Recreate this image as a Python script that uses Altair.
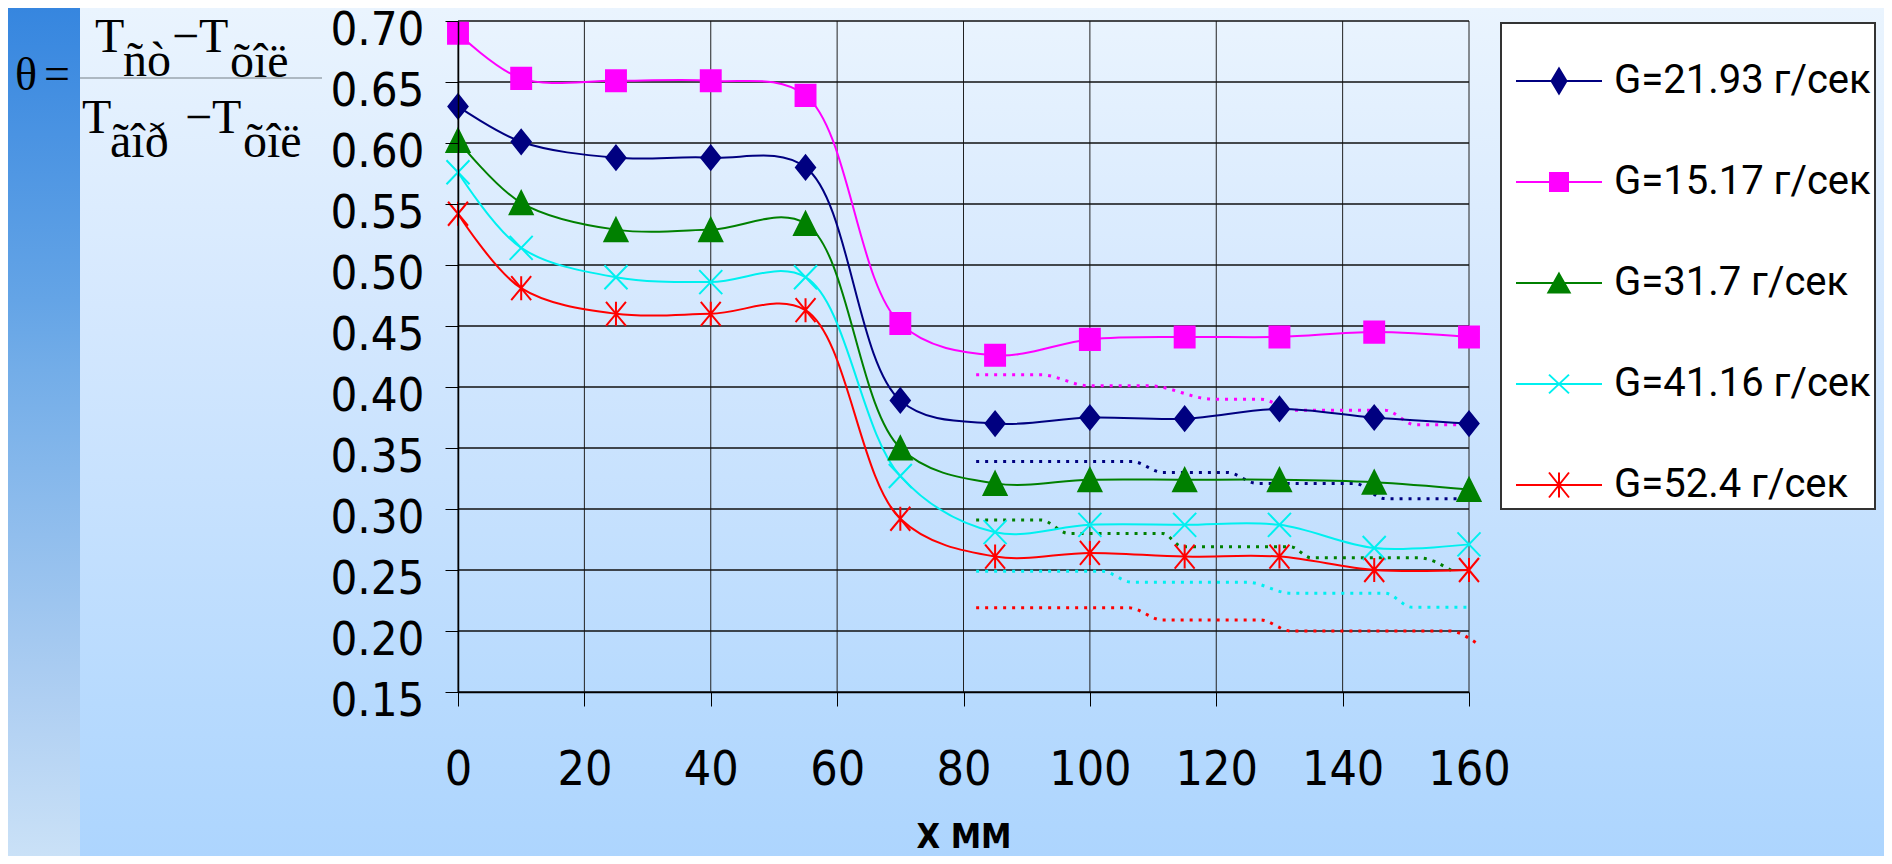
import altair as alt
import pandas as pd

# ---------------- data ----------------
SERIES = ["G=21.93 г/сек", "G=15.17 г/сек", "G=31.7 г/сек", "G=41.16 г/сек", "G=52.4 г/сек"]
COLORS = ["#000080", "#FF00FF", "#008000", "#00F0F0", "#FF0000"]

X_MM = [0, 10, 25, 40, 55, 70, 85, 100, 115, 130, 145, 160]
THETA_2193 = [0.630, 0.601, 0.588, 0.588, 0.580, 0.389, 0.370, 0.375, 0.374, 0.382, 0.375, 0.370]
THETA_1517 = [0.690, 0.653, 0.651, 0.651, 0.639, 0.452, 0.426, 0.439, 0.441, 0.441, 0.445, 0.441]
THETA_317 = [0.602, 0.551, 0.529, 0.529, 0.534, 0.350, 0.321, 0.324, 0.324, 0.324, 0.322, 0.316]
THETA_4116 = [0.576, 0.514, 0.490, 0.486, 0.490, 0.327, 0.281, 0.287, 0.287, 0.287, 0.268, 0.271]
THETA_524 = [0.542, 0.481, 0.460, 0.460, 0.463, 0.292, 0.261, 0.264, 0.261, 0.261, 0.250, 0.250]

# dotted (step-like) companion curves
DOT_X_2193 = [82, 106.7, 111.5, 121.7, 126.5, 141.9, 146.7, 160.6]
DOT_Y_2193 = [0.339, 0.339, 0.330, 0.330, 0.321, 0.321, 0.3085, 0.3085]
DOT_X_1517 = [82, 92.3, 99.8, 109.4, 119.5, 127, 132.3, 146.7, 151.5, 160.6]
DOT_Y_1517 = [0.410, 0.410, 0.401, 0.401, 0.390, 0.390, 0.381, 0.381, 0.369, 0.369]
DOT_X_317 = [82, 92.3, 96.6, 111.5, 114.7, 131.8, 135, 152, 157.4]
DOT_Y_317 = [0.291, 0.291, 0.280, 0.280, 0.269, 0.269, 0.260, 0.260, 0.249]
DOT_X_4116 = [82, 101.9, 106.7, 124.9, 131.8, 146.7, 151, 160.1]
DOT_Y_4116 = [0.249, 0.249, 0.240, 0.240, 0.231, 0.231, 0.2195, 0.2195]
DOT_X_524 = [82, 106.2, 111.5, 127, 131.8, 156.9, 161.2]
DOT_Y_524 = [0.219, 0.219, 0.209, 0.209, 0.200, 0.200, 0.190]

X_TICKS = [0, 20, 40, 60, 80, 100, 120, 140, 160]
Y_TICKS = [0.15, 0.2, 0.25, 0.3, 0.35, 0.4, 0.45, 0.5, 0.55, 0.6, 0.65, 0.7]

# ---------------- tables ----------------
main_vals = [THETA_2193, THETA_1517, THETA_317, THETA_4116, THETA_524]
dot_x = [DOT_X_2193, DOT_X_1517, DOT_X_317, DOT_X_4116, DOT_X_524]
dot_y = [DOT_Y_2193, DOT_Y_1517, DOT_Y_317, DOT_Y_4116, DOT_Y_524]

main_df = pd.DataFrame(
    [{"series": s, "x": x, "y": y} for s, ys in zip(SERIES, main_vals) for x, y in zip(X_MM, ys)]
)
dot_df = pd.DataFrame(
    [{"series": s, "x": x, "y": y} for s, xs, ys in zip(SERIES, dot_x, dot_y) for x, y in zip(xs, ys)]
)
leg_df = pd.DataFrame({"series": SERIES, "x": [X_MM[0]] * 5, "y": [v[0] for v in main_vals]})
xgrid_df = pd.DataFrame({"x": X_TICKS})
ygrid_df = pd.DataFrame({"y": Y_TICKS})
one = pd.DataFrame({"k": [0]})

# ---------------- styles ----------------
NARROW = "Liberation Sans Narrow, Arial Narrow, DejaVu Sans Condensed, sans-serif"
SERIF = "Liberation Serif, Times New Roman, serif"

MARKER_PATHS = [
    "M0,-1L0.8,0L0,1L-0.8,0Z",
    "M-0.83,-0.88L0.83,-0.88L0.83,0.88L-0.83,0.88Z",
    "M0,-0.96L0.96,0.96L-0.96,0.96Z",
    "M-0.96,-1L0.96,1M-0.96,1L0.96,-1",
    "M-0.83,-1L0.83,1M-0.83,1L0.83,-1M0,-1L0,1",
]
LEGEND_PATHS = [
    "M-3.44,0L3.44,0M0,-1L0.6,0L0,1L-0.6,0Z",
    "M-3.44,0L3.44,0M-0.72,-0.72L0.72,-0.72L0.72,0.72L-0.72,0.72Z",
    "M-3.44,0L3.44,0M0,-0.75L0.85,0.75L-0.85,0.75Z",
    "M-3.44,0L3.44,0M-0.8,-0.75L0.8,0.75M-0.8,0.75L0.8,-0.75",
    "M-3.44,0L3.44,0M-0.8,-1L0.8,1M-0.8,1L0.8,-1M0,-1L0,1",
]

W, H = 1011, 671
PAD = {"left": 450, "top": 13, "right": 415, "bottom": 164}

X_SCALE = alt.Scale(domain=[0, 160], nice=False, zero=False)
Y_SCALE = alt.Scale(domain=[0.15, 0.70], nice=False, zero=False)

X_AXIS = alt.Axis(
    values=X_TICKS, format="d", grid=False, zindex=1,
    domain=True, domainColor="black", domainWidth=1.5,
    ticks=True, tickColor="black", tickSize=14, tickWidth=1,
    labelFont=NARROW, labelFontSize=48, labelColor="black", labelPadding=40,
    labelFlush=False, labelOverlap=False, labelAngle=0,
    title="X MM", titleFont=NARROW, titleFontSize=34, titleFontWeight="bold",
    titleColor="black", titleBaseline="top", titleY=128,
)
Y_AXIS = alt.Axis(
    values=Y_TICKS, format=".2f", grid=False, zindex=1,
    domain=True, domainColor="black", domainWidth=1.5,
    ticks=True, tickColor="black", tickSize=13, tickWidth=1,
    labelFont=NARROW, labelFontSize=47, labelColor="black", labelPadding=21,
    labelOffset=9, labelFlush=False, labelOverlap=False, title=None,
)
X_ENC = alt.X("x:Q", scale=X_SCALE, axis=X_AXIS)
Y_ENC = alt.Y("y:Q", scale=Y_SCALE, axis=Y_AXIS)

def color_scale(rng):
    return alt.Scale(domain=SERIES, range=rng)

# ---------------- background decoration ----------------
bg_grad = alt.LinearGradient(
    gradient="linear", x1=0, x2=0, y1=0, y2=1,
    stops=[
        alt.GradientStop(color="#EAF4FE", offset=0),
        alt.GradientStop(color="#D5E8FE", offset=0.35),
        alt.GradientStop(color="#B7DAFE", offset=0.82),
        alt.GradientStop(color="#ADD5FE", offset=1),
    ],
)
strip_grad = alt.LinearGradient(
    gradient="linear", x1=0, x2=0, y1=0, y2=1,
    stops=[
        alt.GradientStop(color="#3686DF", offset=0),
        alt.GradientStop(color="#64A4E6", offset=0.344),
        alt.GradientStop(color="#73ADE8", offset=0.427),
        alt.GradientStop(color="#AFCFF2", offset=0.816),
        alt.GradientStop(color="#CAE1F7", offset=1),
    ],
)
bg = alt.Chart(one).mark_rect(fill=bg_grad).encode(
    x=alt.value(-PAD["left"]), x2=alt.value(W + PAD["right"]),
    y=alt.value(-PAD["top"]), y2=alt.value(H + PAD["bottom"]),
)
strip = alt.Chart(one).mark_rect(fill=strip_grad).encode(
    x=alt.value(-PAD["left"]), x2=alt.value(-378),
    y=alt.value(-PAD["top"]), y2=alt.value(H + PAD["bottom"]),
)

def txt(s, x, y, size=48):
    return alt.Chart(one).mark_text(
        text=s, font=SERIF, fontSize=size, align="left", baseline="alphabetic", color="black"
    ).encode(x=alt.value(x), y=alt.value(y))

eq = [
    txt("θ", -443, 69, 46),
    txt("=", -414, 68, 46),
    txt("T", -363, 31),
    txt("ñò", -335, 55),
    txt("\u2212T", -286, 31),
    txt("õîë", -228, 56),
    txt("T", -376, 112),
    txt("ãîð", -348, 136),
    txt("\u2212T", -273, 112),
    txt("õîë", -215, 136),
]
bar = alt.Chart(one).mark_rule(color="#9AA4AE", strokeWidth=1.5).encode(
    x=alt.value(-378), x2=alt.value(-136), y=alt.value(57)
)

# ---------------- grid ----------------
vgrid = alt.Chart(xgrid_df).mark_rule(color="#222222", strokeWidth=1).encode(x=X_ENC)
hgrid = alt.Chart(ygrid_df).mark_rule(color="#111111", strokeWidth=1.5).encode(y=Y_ENC)

# ---------------- data marks ----------------
dotted = alt.Chart(dot_df).mark_line(
    interpolate="monotone", strokeWidth=3, strokeDash=[3, 6]
).encode(
    x=X_ENC, y=Y_ENC,
    stroke=alt.Stroke("series:N", scale=color_scale(COLORS), legend=None),
)
lines = alt.Chart(main_df).mark_line(interpolate="catmull-rom", strokeWidth=2).encode(
    x=X_ENC, y=Y_ENC,
    stroke=alt.Stroke("series:N", scale=color_scale(COLORS), legend=None),
)
points = alt.Chart(main_df).mark_point(filled=True, size=576, strokeWidth=2, opacity=1).encode(
    x=X_ENC, y=Y_ENC,
    shape=alt.Shape("series:N", scale=color_scale(MARKER_PATHS), legend=None),
    fill=alt.Fill("series:N", scale=color_scale(COLORS), legend=None),
    stroke=alt.Stroke("series:N", scale=color_scale(COLORS), legend=None),
)

LEG = alt.Legend(
    title=" ", titleFontSize=14, titlePadding=20,
    orient="none", legendX=1043, legendY=2,
    padding=4, fillColor="white", strokeColor="#333333",
    symbolSize=625, symbolStrokeWidth=2, symbolOpacity=1,
    symbolOffset=34, labelOffset=35,
    labelFont="Roboto", labelFontSize=40, labelColor="black", labelLimit=600,
    rowPadding=61,
)
legend_layer = alt.Chart(leg_df).mark_point(filled=True, size=625, strokeWidth=2, opacity=0).encode(
    x=X_ENC, y=Y_ENC,
    shape=alt.Shape("series:N", scale=color_scale(LEGEND_PATHS), legend=LEG),
    fill=alt.Fill("series:N", scale=color_scale(COLORS), legend=LEG),
    stroke=alt.Stroke("series:N", scale=color_scale(COLORS), legend=LEG),
)

chart = alt.layer(
    bg, strip, *eq, bar, vgrid, hgrid, dotted, lines, points, legend_layer
).resolve_scale(
    shape="independent", fill="independent", stroke="independent"
).properties(
    width=W, height=H,
    autosize=alt.AutoSizeParams(type="none"),
    padding=PAD,
    background="#D5E8FE",
).configure_view(stroke=None).configure_legend(strokeWidth=2)

chart.save("out.html", embed_options={"renderer": "svg", "actions": False})
